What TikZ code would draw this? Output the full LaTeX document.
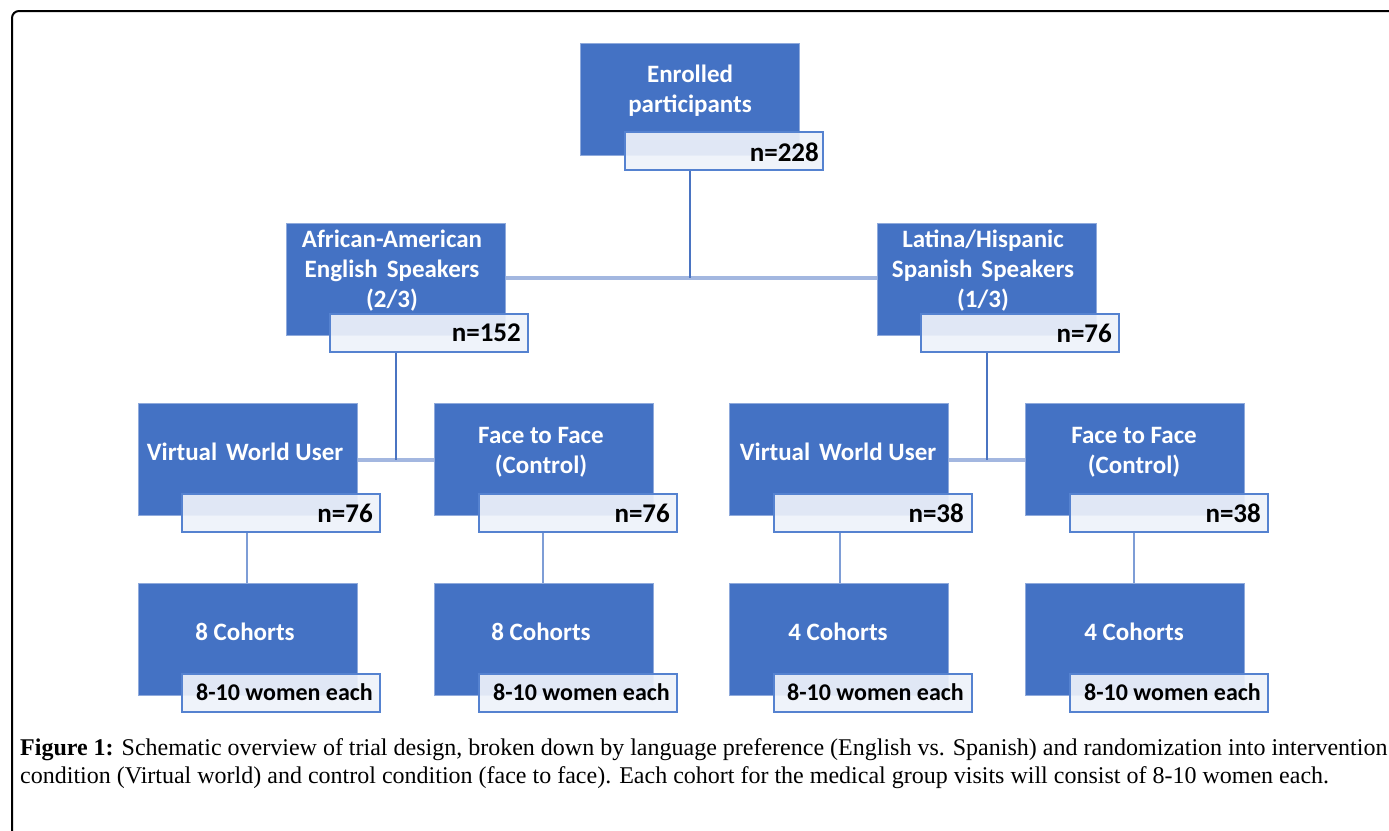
\documentclass[tikz,border=0pt]{standalone}
\usepackage{fontspec}
\setmainfont{Liberation Serif}
\newfontfamily\calibrifont{Carlito}
\definecolor{boxblue}{HTML}{4472C4}
\definecolor{boxedge}{HTML}{8FAADC}
\definecolor{lblfill}{HTML}{EEF2FA}
\definecolor{lbledge}{HTML}{5582D0}
\definecolor{hconn}{HTML}{A3B7E0}
\definecolor{vconn}{HTML}{4A74C2}
\definecolor{lconn}{HTML}{7E9DD6}
\newcommand{\wsp}{\hspace{9pt}}
\tikzset{
  bluebox/.style={draw=boxedge, line width=1.2pt, fill=boxblue, minimum width=219pt, minimum height=112pt, anchor=north west, inner sep=0pt},
  lblbox/.style={draw=lbledge, line width=2pt, fill=lblfill, fill opacity=0.92, minimum width=198pt, minimum height=38pt, anchor=north west, inner sep=0pt},
  btext/.style={text=white, font=\calibrifont\bfseries\fontsize{25}{30}\selectfont, align=center, inner sep=0pt},
  ntext/.style={text=black, font=\calibrifont\bfseries\fontsize{27}{30}\selectfont, anchor=east, inner sep=0pt},
  wtext/.style={text=black, font=\calibrifont\bfseries\fontsize{24}{28}\selectfont, anchor=east, inner sep=0pt},
  hline/.style={draw=hconn, line width=3.5pt},
  vline/.style={draw=vconn, line width=1.8pt},
  lline/.style={draw=lconn, line width=1.6pt},
  captext/.style={anchor=base west, inner sep=0pt, font=\fontsize{24}{28}\selectfont},
}
\begin{document}
\begin{tikzpicture}[x=1pt, y=-1pt]
\useasboundingbox (0,0) rectangle (1389,830);
\begin{scope}
\clip (0,0) rectangle (1389,830);
\draw[line width=2pt, rounded corners=7pt] (12,11) rectangle (1420,870);
\end{scope}

% ---- top
\node[bluebox] (top) at (580,43) {};
\node[btext] (topt) at (690,91) {Enrolled\\participants};
\node[lblbox] (topl) at (624,131) {};
\node[ntext] (topn) at (819,152) {n=228};

% ---- level 2
\node[bluebox] (aa) at (286,223) {};
\node[btext] (aat) at (392,271) {African-American\\English\wsp Speakers\\(2/3)};
\node[lblbox] (aal) at (329,313) {};
\node[ntext] (aan) at (521,333) {n=152};

\node[bluebox] (lh) at (877,223) {};
\node[btext] (lht) at (983,271) {Latina/Hispanic\\Spanish\wsp Speakers\\(1/3)};
\node[lblbox] (lhl) at (920,313) {};
\node[ntext] (lhn) at (1112,333) {n=76};

% ---- level 3
\node[bluebox] (vw1) at (138,403) {};
\node[btext] (vw1t) at (245,452) {Virtual\wsp World User};
\node[lblbox] (vw1l) at (181,493) {};
\node[ntext] (vw1n) at (373,513) {n=76};

\node[bluebox] (ff1) at (434,403) {};
\node[btext] (ff1t) at (541,452) {Face to Face\\(Control)};
\node[lblbox] (ff1l) at (478,493) {};
\node[ntext] (ff1n) at (670,513) {n=76};

\node[bluebox] (vw2) at (729,403) {};
\node[btext] (vw2t) at (838,452) {Virtual\wsp World User};
\node[lblbox] (vw2l) at (773,493) {};
\node[ntext] (vw2n) at (964,513) {n=38};

\node[bluebox] (ff2) at (1025,403) {};
\node[btext] (ff2t) at (1134,452) {Face to Face\\(Control)};
\node[lblbox] (ff2l) at (1069,493) {};
\node[ntext] (ff2n) at (1261,513) {n=38};

% ---- level 4
\node[bluebox] (c1) at (138,583) {};
\node[btext] (c1t) at (245,632) {8 Cohorts};
\node[lblbox] (c1l) at (181,673) {};
\node[wtext] (c1n) at (373,692) {8-10 women each};

\node[bluebox] (c2) at (434,583) {};
\node[btext] (c2t) at (541,632) {8 Cohorts};
\node[lblbox] (c2l) at (478,673) {};
\node[wtext] (c2n) at (670,692) {8-10 women each};

\node[bluebox] (c3) at (729,583) {};
\node[btext] (c3t) at (838,632) {4 Cohorts};
\node[lblbox] (c3l) at (773,673) {};
\node[wtext] (c3n) at (964,692) {8-10 women each};

\node[bluebox] (c4) at (1025,583) {};
\node[btext] (c4t) at (1134,632) {4 Cohorts};
\node[lblbox] (c4l) at (1069,673) {};
\node[wtext] (c4n) at (1261,692) {8-10 women each};

% ---- connectors
\coordinate (j1) at (690,278);
\draw[hline] (aa.east |- j1) -- (lh.west |- j1);
\draw[vline] (topl.south -| j1) -- (j1);

\coordinate (j2) at (396,460);
\draw[hline] (vw1.east |- j2) -- (ff1.west |- j2);
\draw[vline] (aal.south -| j2) -- (j2);

\coordinate (j3) at (987,460);
\draw[hline] (vw2.east |- j3) -- (ff2.west |- j3);
\draw[vline] (lhl.south -| j3) -- (j3);

\coordinate (k1) at (247,0);
\coordinate (k2) at (543,0);
\coordinate (k3) at (840,0);
\coordinate (k4) at (1134,0);
\draw[lline] (vw1l.south -| k1) -- (c1.north -| k1);
\draw[lline] (ff1l.south -| k2) -- (c2.north -| k2);
\draw[lline] (vw2l.south -| k3) -- (c3.north -| k3);
\draw[lline] (ff2l.south -| k4) -- (c4.north -| k4);

% ---- caption
\node[captext] (cap1) at (20,755)
  {\textbf{Figure 1:} Schematic overview of trial design, broken down by language preference (English vs. Spanish) and randomization into intervention};
\node[captext] (cap2) at (20,783)
  {condition (Virtual world) and control condition (face to face). Each cohort for the medical group visits will consist of 8-10 women each.};
\end{tikzpicture}
\end{document}
